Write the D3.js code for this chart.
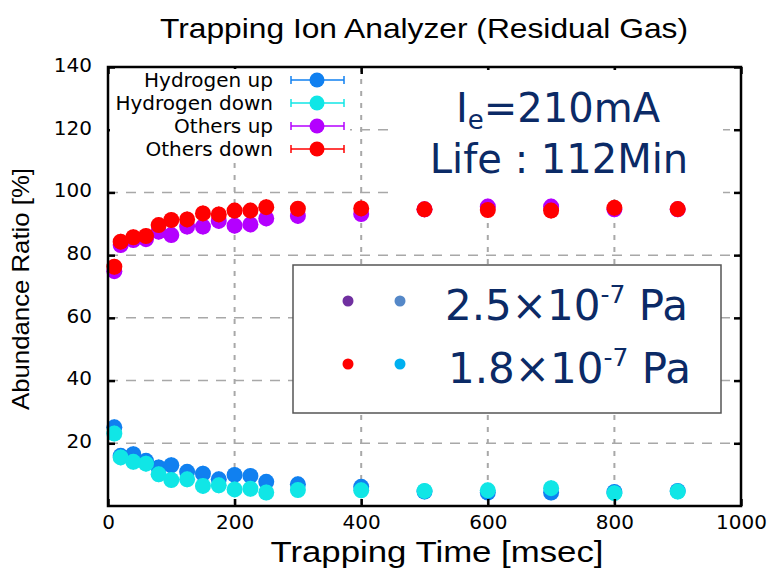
<!DOCTYPE html>
<html>
<head>
<meta charset="utf-8">
<script src="https://cdn.jsdelivr.net/npm/d3@7"></script>
<style>
  body { margin: 0; background: #fff; }
  svg { display: block; }
</style>
</head>
<body>
<div id="chart"></div>
<script>
// Data
// =================================
var trapTime = [10, 20, 40, 60, 80, 100, 125, 150, 175, 200, 225, 250, 300, 400, 500, 600, 700, 800, 900];

var hydrogenUp   = [25.1, 16.0, 16.5, 14.4, 12.3, 13.0, 10.9, 10.3, 8.5, 9.9, 9.6, 7.7, 6.9, 6.1, 4.6, 4.3, 4.3, 4.5, 4.8];
var hydrogenDown = [23.1, 15.5, 14.1, 13.5, 10.1, 8.3, 8.5, 6.4, 6.6, 5.3, 5.5, 4.3, 5.1, 5.0, 4.8, 5.0, 5.7, 4.1, 4.6];
var othersUp     = [74.9, 83.2, 84.8, 85.1, 87.5, 86.4, 89.1, 89.1, 90.9, 89.4, 89.8, 91.7, 92.5, 93.1, 94.6, 95.5, 95.5, 94.6, 94.6];
var othersDown   = [76.3, 84.3, 85.7, 86.1, 89.6, 91.2, 91.4, 93.3, 93.0, 94.2, 94.2, 95.3, 94.8, 94.9, 94.6, 94.4, 94.2, 95.1, 94.7];

// error bar half length, same for every point
var errPct = [2.5, 2.5, 2.5, 2.5, 2.5, 2.5, 2.5, 2.5, 2.5, 2.5, 2.5, 2.5, 2.5, 2.5, 2.5, 2.5, 2.5, 2.5, 2.5];

var seriesNames  = ["Hydrogen up", "Hydrogen down", "Others up", "Others down"];
var seriesColors = ["#1080f0", "#10e6e6", "#b400ff", "#ff0000"];
var seriesValues = [hydrogenUp, hydrogenDown, othersUp, othersDown];

var xTicks = [0, 200, 400, 600, 800, 1000];
var yTicks = [20, 40, 60, 80, 100, 120, 140];
var xGrid = [200, 400, 600, 800];
var yGrid = [20, 40, 60, 80, 100, 120];

var pressureLabels = ["2.5×10", "1.8×10"];
var pressureDots = [["#7030a0", "#5588c8"], ["#ff0000", "#00b0f0"]];

// Step 1: chart size
// =================================
var svgWidth = 772;
var svgHeight = 570;
var margin = { top: 67, right: 31, bottom: 64, left: 108 };
var width = svgWidth - margin.left - margin.right;
var height = svgHeight - margin.top - margin.bottom;

var svg = d3.select("#chart")
    .append("svg")
    .attr("width", svgWidth)
    .attr("height", svgHeight);

var chartGroup = svg.append("g")
    .attr("transform", `translate(${margin.left}, ${margin.top})`);

var xScale = d3.scaleLinear().domain([0, 1000]).range([0, width]);
var yScale = d3.scaleLinear().domain([0, 140]).range([height, 0]);

// Step 2: grid
// =================================
chartGroup.selectAll(".vgrid")
    .data(xGrid)
    .enter()
    .append("line")
    .attr("x1", d => xScale(d))
    .attr("x2", d => xScale(d))
    .attr("y1", 0)
    .attr("y2", height)
    .attr("stroke", "#a8a8a8")
    .attr("stroke-width", 2)
    .attr("stroke-dasharray", "5,7");

chartGroup.selectAll(".hgrid")
    .data(yGrid)
    .enter()
    .append("line")
    .attr("x1", 0)
    .attr("x2", width)
    .attr("y1", d => yScale(d))
    .attr("y2", d => yScale(d))
    .attr("stroke", "#a8a8a8")
    .attr("stroke-width", 1.5)
    .attr("stroke-dasharray", "10,8");

// white patches (key area + pasted annotation)
svg.append("rect")
    .attr("x", 110).attr("y", 69).attr("width", 240).attr("height", 94)
    .attr("fill", "#fff");
svg.append("rect")
    .attr("x", 393).attr("y", 70).attr("width", 330).attr("height", 126)
    .attr("fill", "#fff");

// Step 3: points with error bars
// =================================
seriesValues.forEach(function(vals, s) {
    var pts = trapTime.map((t, i) => ({ x: t, y: vals[i], e: errPct[i] }));
    var g = chartGroup.append("g");

    g.selectAll(".err")
        .data(pts)
        .enter()
        .append("line")
        .attr("x1", d => xScale(d.x))
        .attr("x2", d => xScale(d.x))
        .attr("y1", d => yScale(d.y - d.e))
        .attr("y2", d => yScale(d.y + d.e))
        .attr("stroke", seriesColors[s])
        .attr("stroke-width", 1.5);

    g.selectAll(".pt")
        .data(pts)
        .enter()
        .append("circle")
        .attr("cx", d => xScale(d.x))
        .attr("cy", d => yScale(d.y))
        .attr("r", 8)
        .attr("fill", seriesColors[s]);
});

// Step 4: axes and frame
// =================================
var tickFont = "DejaVu Sans, Verdana, sans-serif";

var bottomAxis = chartGroup.append("g")
    .attr("transform", `translate(0, ${height})`)
    .call(d3.axisBottom(xScale).tickValues(xTicks).tickSize(-7).tickPadding(9).tickFormat(d3.format("d")));
var leftAxis = chartGroup.append("g")
    .call(d3.axisLeft(yScale).tickValues(yTicks).tickSize(-7).tickPadding(16));
var topAxis = chartGroup.append("g")
    .call(d3.axisTop(xScale).tickValues(xTicks).tickSize(-7).tickFormat(""));
var rightAxis = chartGroup.append("g")
    .attr("transform", `translate(${width}, 0)`)
    .call(d3.axisRight(yScale).tickValues(yTicks).tickSize(-7).tickFormat(""));

[bottomAxis, leftAxis, topAxis, rightAxis].forEach(function(a) {
    a.select(".domain").remove();
    a.selectAll("line").attr("stroke", "#000").attr("stroke-width", 2.5);
    a.selectAll("text")
        .attr("fill", "#000")
        .style("font-family", tickFont)
        .style("font-size", "20px");
});
leftAxis.selectAll("text").attr("dy", "0.22em");

chartGroup.append("rect")
    .attr("width", width)
    .attr("height", height)
    .attr("fill", "none")
    .attr("stroke", "#000")
    .attr("stroke-width", 2.5);

// titles
svg.append("text")
    .attr("x", 424).attr("y", 38)
    .attr("text-anchor", "middle")
    .attr("textLength", 528).attr("lengthAdjust", "spacingAndGlyphs")
    .style("font-family", "Liberation Sans, Arial, sans-serif")
    .style("font-size", "28px")
    .text("Trapping Ion Analyzer (Residual Gas)");

svg.append("text")
    .attr("x", 437).attr("y", 562)
    .attr("text-anchor", "middle")
    .attr("textLength", 333).attr("lengthAdjust", "spacingAndGlyphs")
    .style("font-family", "Liberation Sans, Arial, sans-serif")
    .style("font-size", "29px")
    .text("Trapping Time [msec]");

svg.append("text")
    .attr("transform", "translate(29, 289) rotate(-90)")
    .attr("text-anchor", "middle")
    .attr("textLength", 242).attr("lengthAdjust", "spacingAndGlyphs")
    .style("font-family", "Liberation Sans, Arial, sans-serif")
    .style("font-size", "24px")
    .text("Abundance Ratio [%]");

// Step 5: gnuplot key (top left)
// =================================
var key = svg.append("g");
var keyRows = key.selectAll(".keyrow")
    .data(seriesNames)
    .enter()
    .append("g")
    .attr("transform", (d, i) => `translate(0, ${80 + i * 23})`);

keyRows.append("text")
    .attr("x", 273).attr("y", 7)
    .attr("text-anchor", "end")
    .style("font-family", tickFont)
    .style("font-size", "20px")
    .text(d => d);
keyRows.append("line")
    .attr("x1", 291).attr("x2", 344).attr("y1", 0).attr("y2", 0)
    .attr("stroke", (d, i) => seriesColors[i]).attr("stroke-width", 1.5);
keyRows.append("line")
    .attr("x1", 291).attr("x2", 291).attr("y1", -4).attr("y2", 4)
    .attr("stroke", (d, i) => seriesColors[i]).attr("stroke-width", 1.5);
keyRows.append("line")
    .attr("x1", 344).attr("x2", 344).attr("y1", -4).attr("y2", 4)
    .attr("stroke", (d, i) => seriesColors[i]).attr("stroke-width", 1.5);
keyRows.append("circle")
    .attr("cx", 317).attr("cy", 0).attr("r", 7.5)
    .attr("fill", (d, i) => seriesColors[i]);

// Step 6: annotations
// =================================
var navy = "#0b2a66";
var note = svg.append("g")
    .style("font-family", tickFont)
    .attr("fill", navy);

var line1 = note.append("text")
    .attr("x", 558).attr("y", 122)
    .attr("text-anchor", "middle")
    .style("font-size", "40px");
line1.append("tspan").text("I");
line1.append("tspan").attr("dy", 7).style("font-size", "26px").text("e");
line1.append("tspan").attr("dy", -7).text("=210mA");

note.append("text")
    .attr("x", 559).attr("y", 173)
    .attr("text-anchor", "middle")
    .style("font-size", "40px")
    .text("Life : 112Min");

// pressure legend box
svg.append("rect")
    .attr("x", 293).attr("y", 265).attr("width", 428).attr("height", 148)
    .attr("fill", "#fff")
    .attr("stroke", "#555")
    .attr("stroke-width", 1.5);

var pRows = svg.selectAll(".prow")
    .data(pressureLabels)
    .enter()
    .append("g")
    .attr("transform", (d, i) => `translate(0, ${301 + i * 63})`);

pRows.append("circle")
    .attr("cx", 348).attr("cy", 0).attr("r", 5.5)
    .attr("fill", (d, i) => pressureDots[i][0]);
pRows.append("circle")
    .attr("cx", 400).attr("cy", 0).attr("r", 5.5)
    .attr("fill", (d, i) => pressureDots[i][1]);

var pText = pRows.append("text")
    .attr("x", (d, i) => 445 + i * 3)
    .attr("y", 19)
    .attr("fill", navy)
    .style("font-family", tickFont)
    .style("font-size", "42px");
pText.append("tspan").text(d => d);
pText.append("tspan").attr("dy", -17).style("font-size", "25px").text("-7");
pText.append("tspan").attr("dy", 17).text(" Pa");
</script>
</body>
</html>
